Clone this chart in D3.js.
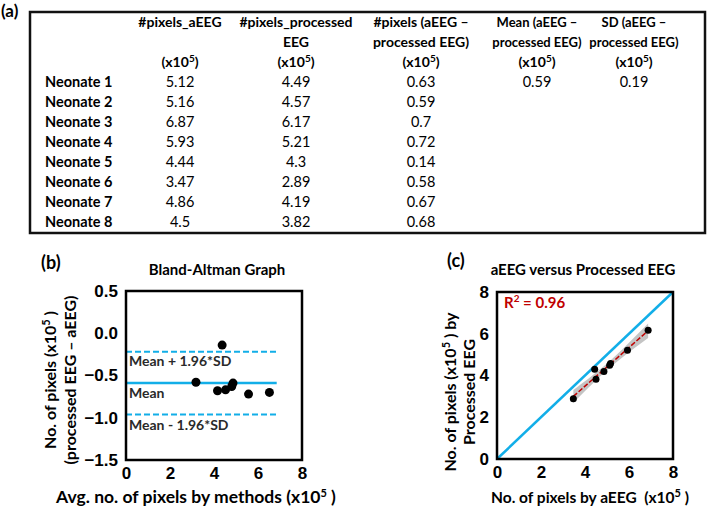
<!DOCTYPE html>
<html>
<head>
<meta charset="utf-8">
<script src="https://cdn.jsdelivr.net/npm/d3@7"></script>
<style>
  body { margin: 0; background: #fff; }
  svg { font-family: Lato, "Open Sans", sans-serif; }
  .tick text { font-weight: bold; font-size: 17px; fill: #000; }
</style>
</head>
<body>
<svg id="fig" width="708" height="510"></svg>
<script>
// table values (x10^5)
var neonates = ["Neonate 1", "Neonate 2", "Neonate 3", "Neonate 4", "Neonate 5", "Neonate 6", "Neonate 7", "Neonate 8"];
var pixelsAEEG = [5.12, 5.16, 6.87, 5.93, 4.44, 3.47, 4.86, 4.5];
var pixelsProcessed = [4.49, 4.57, 6.17, 5.21, 4.3, 2.89, 4.19, 3.82];
var pixelsDiff = [0.63, 0.59, 0.7, 0.72, 0.14, 0.58, 0.67, 0.68];
var meanDiff = 0.59, sdDiff = 0.19;
var r2Label = "0.96";

var baTicks = [-1.5, -1.0, -0.5, 0.0, 0.5];
var xTicks = [0, 2, 4, 6, 8];

var blue = "#12aee8", red = "#c00000";
var svg = d3.select("#fig");

// ---------- (a) table ----------
svg.append("text").attr("x", 1).attr("y", 17).style("font-size", "17px").style("font-weight", "bold").text("(a)");
svg.append("rect").attr("x", 30).attr("y", 12).attr("width", 675).attr("height", 221)
	.attr("fill", "none").attr("stroke", "#111").attr("stroke-width", 2.5);

var colX = [180, 296, 421, 537, 634];
var headSize = ["14px", "14px", "14px", "13px", "13px"];
var headers = [
	["#pixels_aEEG", ""],
	["#pixels_processed", "EEG"],
	["#pixels (aEEG \u2013", "processed EEG)"],
	["Mean (aEEG \u2013", "processed EEG)"],
	["SD (aEEG \u2013", "processed EEG)"]
];
var tbl = svg.append("g").style("font-size", "14px");

headers.forEach(function (h, i) {
	var hg = tbl.append("g").style("font-size", headSize[i]).style("font-weight", "bold").attr("text-anchor", "middle");
	hg.append("text").attr("x", colX[i]).attr("y", 27).text(h[0]);
	hg.append("text").attr("x", colX[i]).attr("y", 47).text(h[1]);
	var u = hg.append("text").attr("x", colX[i]).attr("y", 67).style("font-size", "14px");
	u.append("tspan").text("(x10");
	u.append("tspan").attr("dy", -5).style("font-size", "10px").text("5");
	u.append("tspan").attr("dy", 5).text(")");
});

var rows = tbl.selectAll(".row").data(neonates).enter().append("g")
	.style("font-size", "14.5px")
	.attr("transform", function (d, i) { return "translate(0," + (87 + i * 20) + ")"; });
rows.append("text").attr("x", 45).style("font-weight", "bold").text(function (d) { return d; });
rows.append("text").attr("x", colX[0]).attr("text-anchor", "middle").text(function (d, i) { return pixelsAEEG[i]; });
rows.append("text").attr("x", colX[1]).attr("text-anchor", "middle").text(function (d, i) { return pixelsProcessed[i]; });
rows.append("text").attr("x", colX[2]).attr("text-anchor", "middle").text(function (d, i) { return pixelsDiff[i]; });
tbl.append("text").attr("x", colX[3]).attr("y", 87).attr("text-anchor", "middle").style("font-size", "14.5px").text(meanDiff);
tbl.append("text").attr("x", colX[4]).attr("y", 87).attr("text-anchor", "middle").style("font-size", "14.5px").text(sdDiff);

// helper for "(x10^5 )" labels
function sup(t, parts) {
	t.append("tspan").text(parts[0]);
	t.append("tspan").attr("dy", -6).style("font-size", "11px").text("5");
	t.append("tspan").attr("dy", 6).text(parts[1]);
}

// ---------- (b) Bland-Altman ----------
var pb = { left: 126, top: 291, w: 176, h: 169 };
var xb = d3.scaleLinear().domain([0, 8]).range([pb.left, pb.left + pb.w]);
var yb = d3.scaleLinear().domain([-1.5, 0.5]).range([pb.top + pb.h, pb.top]);

svg.append("text").attr("x", 41).attr("y", 269).style("font-size", "18px").style("font-weight", "bold").text("(b)");
svg.append("text").attr("x", 217).attr("y", 275).attr("text-anchor", "middle").style("font-size", "15px").style("font-weight", "bold").text("Bland-Altman Graph");

svg.append("g").attr("transform", "translate(0," + (pb.top + pb.h) + ")")
	.call(d3.axisBottom(xb).tickValues(xTicks).tickSize(0).tickPadding(7).tickFormat(d3.format("d")))
	.call(function (g) { g.select(".domain").remove(); });
svg.append("g").attr("transform", "translate(" + pb.left + ",0)")
	.call(d3.axisLeft(yb).tickValues(baTicks).tickSize(0).tickPadding(8).tickFormat(d3.format(".1f")))
	.call(function (g) { g.select(".domain").remove(); });

var baMean = -meanDiff, baUp = -meanDiff + 1.96 * sdDiff, baLo = -meanDiff - 1.96 * sdDiff;
var lineEnd = 6.85;
svg.append("line").attr("x1", xb(0)).attr("x2", xb(lineEnd)).attr("y1", yb(baMean)).attr("y2", yb(baMean))
	.attr("stroke", blue).attr("stroke-width", 2.5);
[baUp, baLo].forEach(function (v) {
	svg.append("line").attr("x1", xb(0)).attr("x2", xb(lineEnd)).attr("y1", yb(v)).attr("y2", yb(v))
		.attr("stroke", blue).attr("stroke-width", 2).attr("stroke-dasharray", "6,3");
});
var lbl = svg.append("g").style("font-size", "14px").style("font-weight", "bold").attr("fill", "#2a2a2a");
lbl.append("text").attr("x", 129).attr("y", yb(baUp) + 14).text("Mean + 1.96*SD");
lbl.append("text").attr("x", 129).attr("y", yb(baMean) + 15).text("Mean");
lbl.append("text").attr("x", 129).attr("y", yb(baLo) + 15).text("Mean - 1.96*SD");

svg.append("g").selectAll("circle").data(neonates).enter().append("circle")
	.attr("cx", function (d, i) { return xb((pixelsAEEG[i] + pixelsProcessed[i]) / 2); })
	.attr("cy", function (d, i) { return yb(pixelsProcessed[i] - pixelsAEEG[i]); })
	.attr("r", 4.5).attr("fill", "#000");

svg.append("rect").attr("x", pb.left).attr("y", pb.top).attr("width", pb.w).attr("height", pb.h)
	.attr("fill", "none").attr("stroke", "#000").attr("stroke-width", 2.5);

var byt = svg.append("g").style("font-size", "16px").style("font-weight", "bold").attr("text-anchor", "middle");
sup(byt.append("text").attr("transform", "translate(56,380) rotate(-90)"), ["No. of pixels (x10", " )"]);
byt.append("text").attr("transform", "translate(76,380) rotate(-90)").text("(processed EEG \u2013 aEEG)");
sup(svg.append("text").attr("x", 196).attr("y", 503).attr("text-anchor", "middle")
	.style("font-size", "17.5px").style("font-weight", "bold"), ["Avg. no. of pixels by methods (x10", " )"]);

// ---------- (c) aEEG versus processed ----------
var pc = { left: 497, top: 292, w: 176, h: 167 };
var xc = d3.scaleLinear().domain([0, 8]).range([pc.left, pc.left + pc.w]);
var yc = d3.scaleLinear().domain([0, 8]).range([pc.top + pc.h, pc.top]);

svg.append("text").attr("x", 447).attr("y", 267).style("font-size", "18px").style("font-weight", "bold").text("(c)");
svg.append("text").attr("x", 583).attr("y", 275).attr("text-anchor", "middle").style("font-size", "15px").style("font-weight", "bold").text("aEEG versus Processed EEG");

svg.append("g").attr("transform", "translate(0," + (pc.top + pc.h) + ")")
	.call(d3.axisBottom(xc).tickValues(xTicks).tickSize(0).tickPadding(7).tickFormat(d3.format("d")))
	.call(function (g) { g.select(".domain").remove(); });
svg.append("g").attr("transform", "translate(" + pc.left + ",0)")
	.call(d3.axisLeft(yc).tickValues(xTicks).tickSize(0).tickPadding(8).tickFormat(d3.format("d")))
	.call(function (g) { g.select(".domain").remove(); });

// least squares fit with 95% band
var n = pixelsAEEG.length,
	mx = d3.mean(pixelsAEEG), my = d3.mean(pixelsProcessed),
	sxx = d3.sum(pixelsAEEG, function (v) { return (v - mx) * (v - mx); }),
	sxy = d3.sum(pixelsAEEG, function (v, i) { return (v - mx) * (pixelsProcessed[i] - my); }),
	slope = sxy / sxx, icpt = my - slope * mx,
	sse = d3.sum(pixelsAEEG, function (v, i) { var e = pixelsProcessed[i] - (icpt + slope * v); return e * e; }),
	s = Math.sqrt(sse / (n - 2)), tval = 2.447;
var xr = d3.extent(pixelsAEEG);
var bandX = d3.range(0, 21).map(function (k) { return xr[0] + (xr[1] - xr[0]) * k / 20; });
var band = d3.area()
	.x(function (v) { return xc(v); })
	.y0(function (v) { return yc(icpt + slope * v - tval * s * Math.sqrt(1 / n + (v - mx) * (v - mx) / sxx)); })
	.y1(function (v) { return yc(icpt + slope * v + tval * s * Math.sqrt(1 / n + (v - mx) * (v - mx) / sxx)); });

svg.append("line").attr("x1", xc(0)).attr("y1", yc(0)).attr("x2", xc(8)).attr("y2", yc(8))
	.attr("stroke", blue).attr("stroke-width", 2.5);
svg.append("path").attr("d", band(bandX)).attr("fill", "#b5b5b5").attr("opacity", 0.8);
svg.append("line").attr("x1", xc(xr[0])).attr("y1", yc(icpt + slope * xr[0]))
	.attr("x2", xc(xr[1])).attr("y2", yc(icpt + slope * xr[1]))
	.attr("stroke", red).attr("stroke-width", 1.5).attr("stroke-dasharray", "5,2");
svg.append("g").selectAll("circle").data(neonates).enter().append("circle")
	.attr("cx", function (d, i) { return xc(pixelsAEEG[i]); })
	.attr("cy", function (d, i) { return yc(pixelsProcessed[i]); })
	.attr("r", 3.5).attr("fill", "#000");

var r2 = svg.append("text").attr("x", 504).attr("y", 308).attr("fill", red).style("font-size", "15px").style("font-weight", "bold");
r2.append("tspan").text("R");
r2.append("tspan").attr("dy", -6).style("font-size", "10px").text("2");
r2.append("tspan").attr("dy", 6).text(" = " + r2Label);

svg.append("rect").attr("x", pc.left).attr("y", pc.top).attr("width", pc.w).attr("height", pc.h)
	.attr("fill", "none").attr("stroke", "#000").attr("stroke-width", 2.5);

var cyt = svg.append("g").style("font-size", "16px").style("font-weight", "bold").attr("text-anchor", "middle");
sup(cyt.append("text").attr("transform", "translate(456,392) rotate(-90)"), ["No. of pixels (x10", " ) by"]);
cyt.append("text").attr("transform", "translate(475,392) rotate(-90)").text("Processed EEG");
sup(svg.append("text").attr("x", 590).attr("y", 503).attr("text-anchor", "middle")
	.style("font-size", "15.5px").style("font-weight", "bold"), ["No. of pixels by aEEG\u00a0\u00a0(x10", " )"]);
</script>
</body>
</html>
